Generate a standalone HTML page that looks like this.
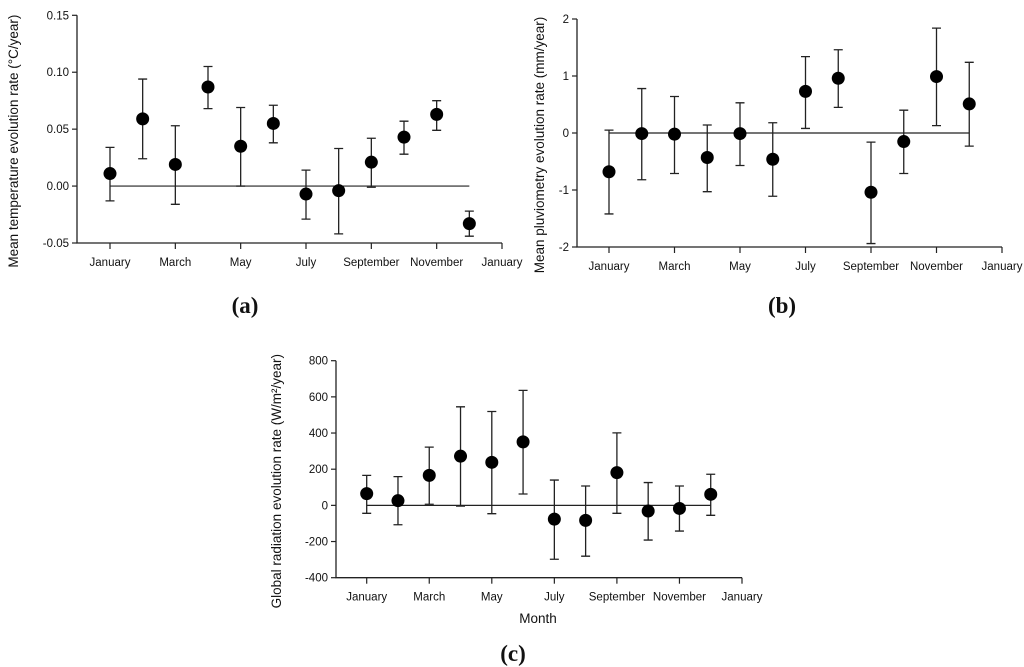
<!DOCTYPE html>
<html><head><meta charset="utf-8"><style>
body{margin:0;background:#fff;width:1024px;height:667px;overflow:hidden}
svg{display:block}
text{font-family:"Liberation Sans",Arial,sans-serif;fill:#111}
.lbl{font-family:"Liberation Serif",serif;font-weight:bold;font-size:23px}
</style></head><body>
<svg id="fig" width="1024" height="667" viewBox="0 0 1024 667"></svg>
<script>
const months = ["January","March","May","July","September","November","January"];
const tempVals = [0.011,0.059,0.019,0.087,0.035,0.055,-0.007,-0.004,0.021,0.043,0.063,-0.033];
const tempHi = [0.034,0.094,0.053,0.105,0.069,0.071,0.014,0.033,0.042,0.057,0.075,-0.022];
const tempLo = [-0.013,0.024,-0.016,0.068,0.000,0.038,-0.029,-0.042,-0.001,0.028,0.049,-0.044];
const tempTicks = [-0.05,0.00,0.05,0.10,0.15];
const rainVals = [-0.68,-0.01,-0.02,-0.43,-0.01,-0.46,0.73,0.96,-1.04,-0.15,0.99,0.51];
const rainHi = [0.05,0.78,0.64,0.14,0.53,0.18,1.34,1.46,-0.16,0.40,1.84,1.24];
const rainLo = [-1.42,-0.82,-0.71,-1.03,-0.57,-1.11,0.08,0.45,-1.94,-0.71,0.13,-0.23];
const rainTicks = [-2,-1,0,1,2];
const radVals = [65,26,166,272,238,351,-76,-83,181,-31,-17,61];
const radHi = [166,159,322,545,519,636,140,107,401,126,107,172];
const radLo = [-44,-107,6,-4,-46,63,-298,-281,-44,-192,-142,-55];
const radTicks = [-400,-200,0,200,400,600,800];

const NS="http://www.w3.org/2000/svg";
const svg=document.getElementById('fig');
function mk(tag,attrs,parent,txt){const e=document.createElementNS(NS,tag);for(const k in attrs)e.setAttribute(k,attrs[k]);if(txt!==undefined)e.textContent=txt;(parent||svg).appendChild(e);return e;}

function panel(cfg){
  const g=mk('g',{});
  
  
  const ymin=cfg.ticks[0],ymax=cfg.ticks[cfg.ticks.length-1];
  const y=v=>cfg.yBot-(v-ymin)/(ymax-ymin)*(cfg.yBot-cfg.yTop);
  const step=(cfg.xEnd-cfg.x0)/12;
  const x=i=>cfg.x0+i*step;
  const ax=mk('path',{d:`M${cfg.axL},${cfg.yTop}V${cfg.yBot}H${cfg.xEnd}`,stroke:'#222','stroke-width':1.3,fill:'none'},g);
  
  
  cfg.ticks.forEach(t=>{
    mk('line',{x1:cfg.axL-5,x2:cfg.axL,y1:y(t),y2:y(t),stroke:'#222','stroke-width':1.2},g);
    const tl=mk('text',{x:cfg.axL-8,y:y(t)+4,'text-anchor':'end','font-size':11.5},g,cfg.fmt(t));
    
    
  });
  months.forEach((m,k)=>{
    const xx=x(k*2);
    mk('line',{x1:xx,x2:xx,y1:cfg.yBot,y2:cfg.yBot+6,stroke:'#222','stroke-width':1.2},g);
    const tl=mk('text',{x:xx,y:cfg.yBot+23,'text-anchor':'middle','font-size':11.5},g,m);
    
    
  });
  const zl=mk('line',{x1:x(0),x2:x(11),y1:y(0),y2:y(0),stroke:'#222','stroke-width':1.2},g);
  
  
  cfg.vals.forEach((v,i)=>{
    const xx=x(i);
    const eb=mk('path',{d:`M${xx},${y(cfg.hi[i])}V${y(cfg.lo[i])}M${xx-4.5},${y(cfg.hi[i])}h9M${xx-4.5},${y(cfg.lo[i])}h9`,stroke:'#222','stroke-width':1.3,fill:'none'},g);
    
    
    const c=mk('circle',{cx:xx,cy:y(v),r:6.5,fill:'#000'},g);
    
    
  });
  const yt=mk('text',{transform:`translate(${cfg.ytX},${(cfg.yTop+cfg.yBot)/2+12}) rotate(-90)`,'text-anchor':'middle','font-size':13.5},g,cfg.ytitle);
  
  
  const pl=mk('text',{x:cfg.lblX,y:cfg.lblY,'text-anchor':'middle',class:'lbl'},g,cfg.lbl);
  
  
}
panel({name:'panel-a-temperature',vals:tempVals,hi:tempHi,lo:tempLo,ticks:tempTicks,fmt:t=>t.toFixed(2),
  axL:77,x0:110,xEnd:502,yTop:15.3,yBot:243,ytX:18,ytitle:'Mean temperature evolution rate (°C/year)',lbl:'(a)',lblX:245,lblY:313});
panel({name:'panel-b-pluviometry',vals:rainVals,hi:rainHi,lo:rainLo,ticks:rainTicks,fmt:t=>String(t),
  axL:577,x0:609,xEnd:1002,yTop:19,yBot:247,ytX:544,ytitle:'Mean pluviometry evolution rate (mm/year)',lbl:'(b)',lblX:782,lblY:313});
panel({name:'panel-c-radiation',vals:radVals,hi:radHi,lo:radLo,ticks:radTicks,fmt:t=>String(t),
  axL:336,x0:366.7,xEnd:742,yTop:360.7,yBot:577.7,ytX:281,ytitle:'Global radiation evolution rate (W/m²/year)',lbl:'(c)',lblX:513,lblY:661});
const mt=mk('text',{x:538,y:623,'text-anchor':'middle','font-size':13.5},svg,'Month');


</script>
</body></html>
